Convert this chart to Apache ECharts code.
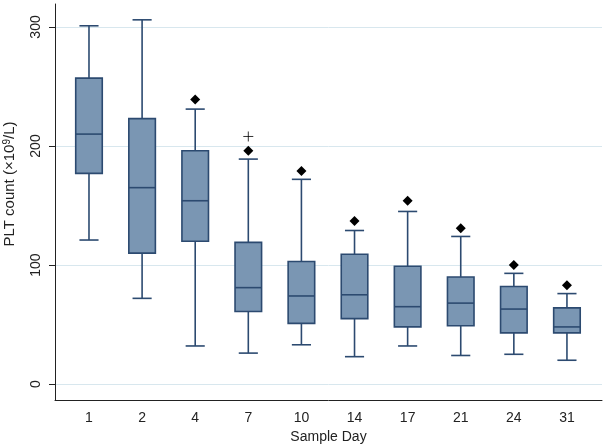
<!DOCTYPE html>
<html lang="en">
<head>
<meta charset="UTF-8">
<title>PLT count by sample day</title>
<script src="https://cdn.jsdelivr.net/npm/echarts@6/dist/echarts.min.js"></script>
<style>
  html, body { margin: 0; padding: 0; background: #fff; }
  #chart { width: 606px; height: 448px; }
</style>
</head>
<body>
<div id="chart"></div>
<script>
// values (PLT count, x10^9/L)
const days = ['1', '2', '4', '7', '10', '14', '17', '21', '24', '31']
const lowWhisker = [121, 72, 32, 26, 33, 23, 32, 24, 25, 20]
const q1 = [177, 110, 120, 61, 51, 55, 48, 49, 43, 43]
const median = [210, 165, 154, 81, 74, 75, 65, 68, 63, 48]
const q3 = [257, 223, 196, 119, 103, 109, 99, 90, 82, 64]
const highWhisker = [301, 306, 231, 189, 172, 129, 145, 124, 93, 76]
// [day index, value]
const outliers = [[2, 239], [3, 196], [4, 179], [5, 137], [6, 154], [7, 131], [8, 100], [9, 83]]
const crossMarks = [[3, 208]]
const yTicks = [0, 100, 200, 300]

const navy = '#2c4a70'
const boxFill = '#7a96b3'
const gridBlue = '#d8e7ee'
const font = 'Liberation Sans'

const boxData = days.map((d, i) => [i, lowWhisker[i], q1[i], median[i], q3[i], highWhisker[i]])

function renderBox(params, api) {
  const x = api.value(0)
  const lo = api.coord([x, api.value(1)])
  const b1 = api.coord([x, api.value(2)])
  const md = api.coord([x, api.value(3)])
  const b3 = api.coord([x, api.value(4)])
  const hi = api.coord([x, api.value(5)])
  const bw = api.size([0.5, 0])[0]
  const cw = api.size([0.36, 0])[0]
  const cx = lo[0]
  const line = (x1, y1, x2, y2) => ({
    type: 'line',
    shape: { x1, y1, x2, y2 },
    style: { stroke: navy, lineWidth: 1.6 }
  })
  return {
    type: 'group',
    children: [
      line(cx, hi[1], cx, b3[1]),
      line(cx, b1[1], cx, lo[1]),
      line(cx - cw / 2, hi[1], cx + cw / 2, hi[1]),
      line(cx - cw / 2, lo[1], cx + cw / 2, lo[1]),
      {
        type: 'rect',
        shape: { x: cx - bw / 2, y: b3[1], width: bw, height: b1[1] - b3[1] },
        style: { fill: boxFill, stroke: navy, lineWidth: 1.6 }
      },
      line(cx - bw / 2, md[1], cx + bw / 2, md[1])
    ]
  }
}

const chart = echarts.init(document.getElementById('chart'))
chart.setOption({
  animation: false,
  backgroundColor: '#fff',
  grid: { left: 55, right: 4, top: 4, bottom: 48, outerBoundsMode: 'none' },
  xAxis: {
    type: 'value',
    min: -0.64,
    max: 9.66,
    name: 'Sample Day',
    nameLocation: 'middle',
    nameGap: 30,
    nameTextStyle: { fontFamily: font, fontSize: 14, color: '#222' },
    axisLine: { show: true, onZero: false, lineStyle: { color: '#222', width: 1 } },
    axisTick: { show: false },
    splitLine: { show: false },
    axisLabel: {
      customValues: days.map((d, i) => i),
      formatter: v => days[Math.round(v)],
      margin: 11,
      fontFamily: font,
      fontSize: 14,
      color: '#222'
    }
  },
  yAxis: {
    type: 'value',
    min: -13.4,
    max: 319.3,
    name: 'PLT count (×10{sup|9}/L)',
    nameLocation: 'middle',
    nameGap: 38,
    nameTextStyle: {
      fontFamily: font,
      fontSize: 15,
      color: '#222',
      padding: [0, 0, 0, 36],
      rich: {
        sup: { fontFamily: font, fontSize: 10, color: '#222', verticalAlign: 'top', lineHeight: 10 }
      }
    },
    axisLine: { show: true, onZero: false, lineStyle: { color: '#222', width: 1 } },
    axisTick: { show: true, customValues: yTicks, length: 6, lineStyle: { color: '#222' } },
    splitLine: { show: false },
    axisLabel: {
      customValues: yTicks,
      rotate: 90,
      margin: 12,
      fontFamily: font,
      fontSize: 14,
      color: '#222'
    }
  },
  series: [
    {
      // carries only the light gridlines, kept under the boxes
      type: 'line',
      name: 'grid',
      data: [],
      silent: true,
      z: 0,
      markLine: {
        silent: true,
        z: 0,
        symbol: 'none',
        label: { show: false },
        lineStyle: { color: gridBlue, type: 'solid', width: 1 },
        data: yTicks.map(v => ({ yAxis: v }))
      }
    },
    {
      type: 'custom',
      name: 'PLT',
      data: boxData,
      encode: { x: 0, y: [1, 2, 3, 4, 5] },
      renderItem: renderBox,
      z: 3
    },
    {
      type: 'scatter',
      name: 'outliers',
      data: outliers,
      symbol: 'diamond',
      symbolSize: 10,
      itemStyle: { color: '#000', opacity: 1 },
      z: 4
    },
    {
      type: 'scatter',
      name: 'cross',
      data: crossMarks,
      symbol: 'path://M5 0 L5 10 M0 5 L10 5',
      symbolSize: 10,
      itemStyle: { color: 'none', borderColor: '#000', borderWidth: 1 },
      z: 4
    }
  ]
})
</script>
</body>
</html>
